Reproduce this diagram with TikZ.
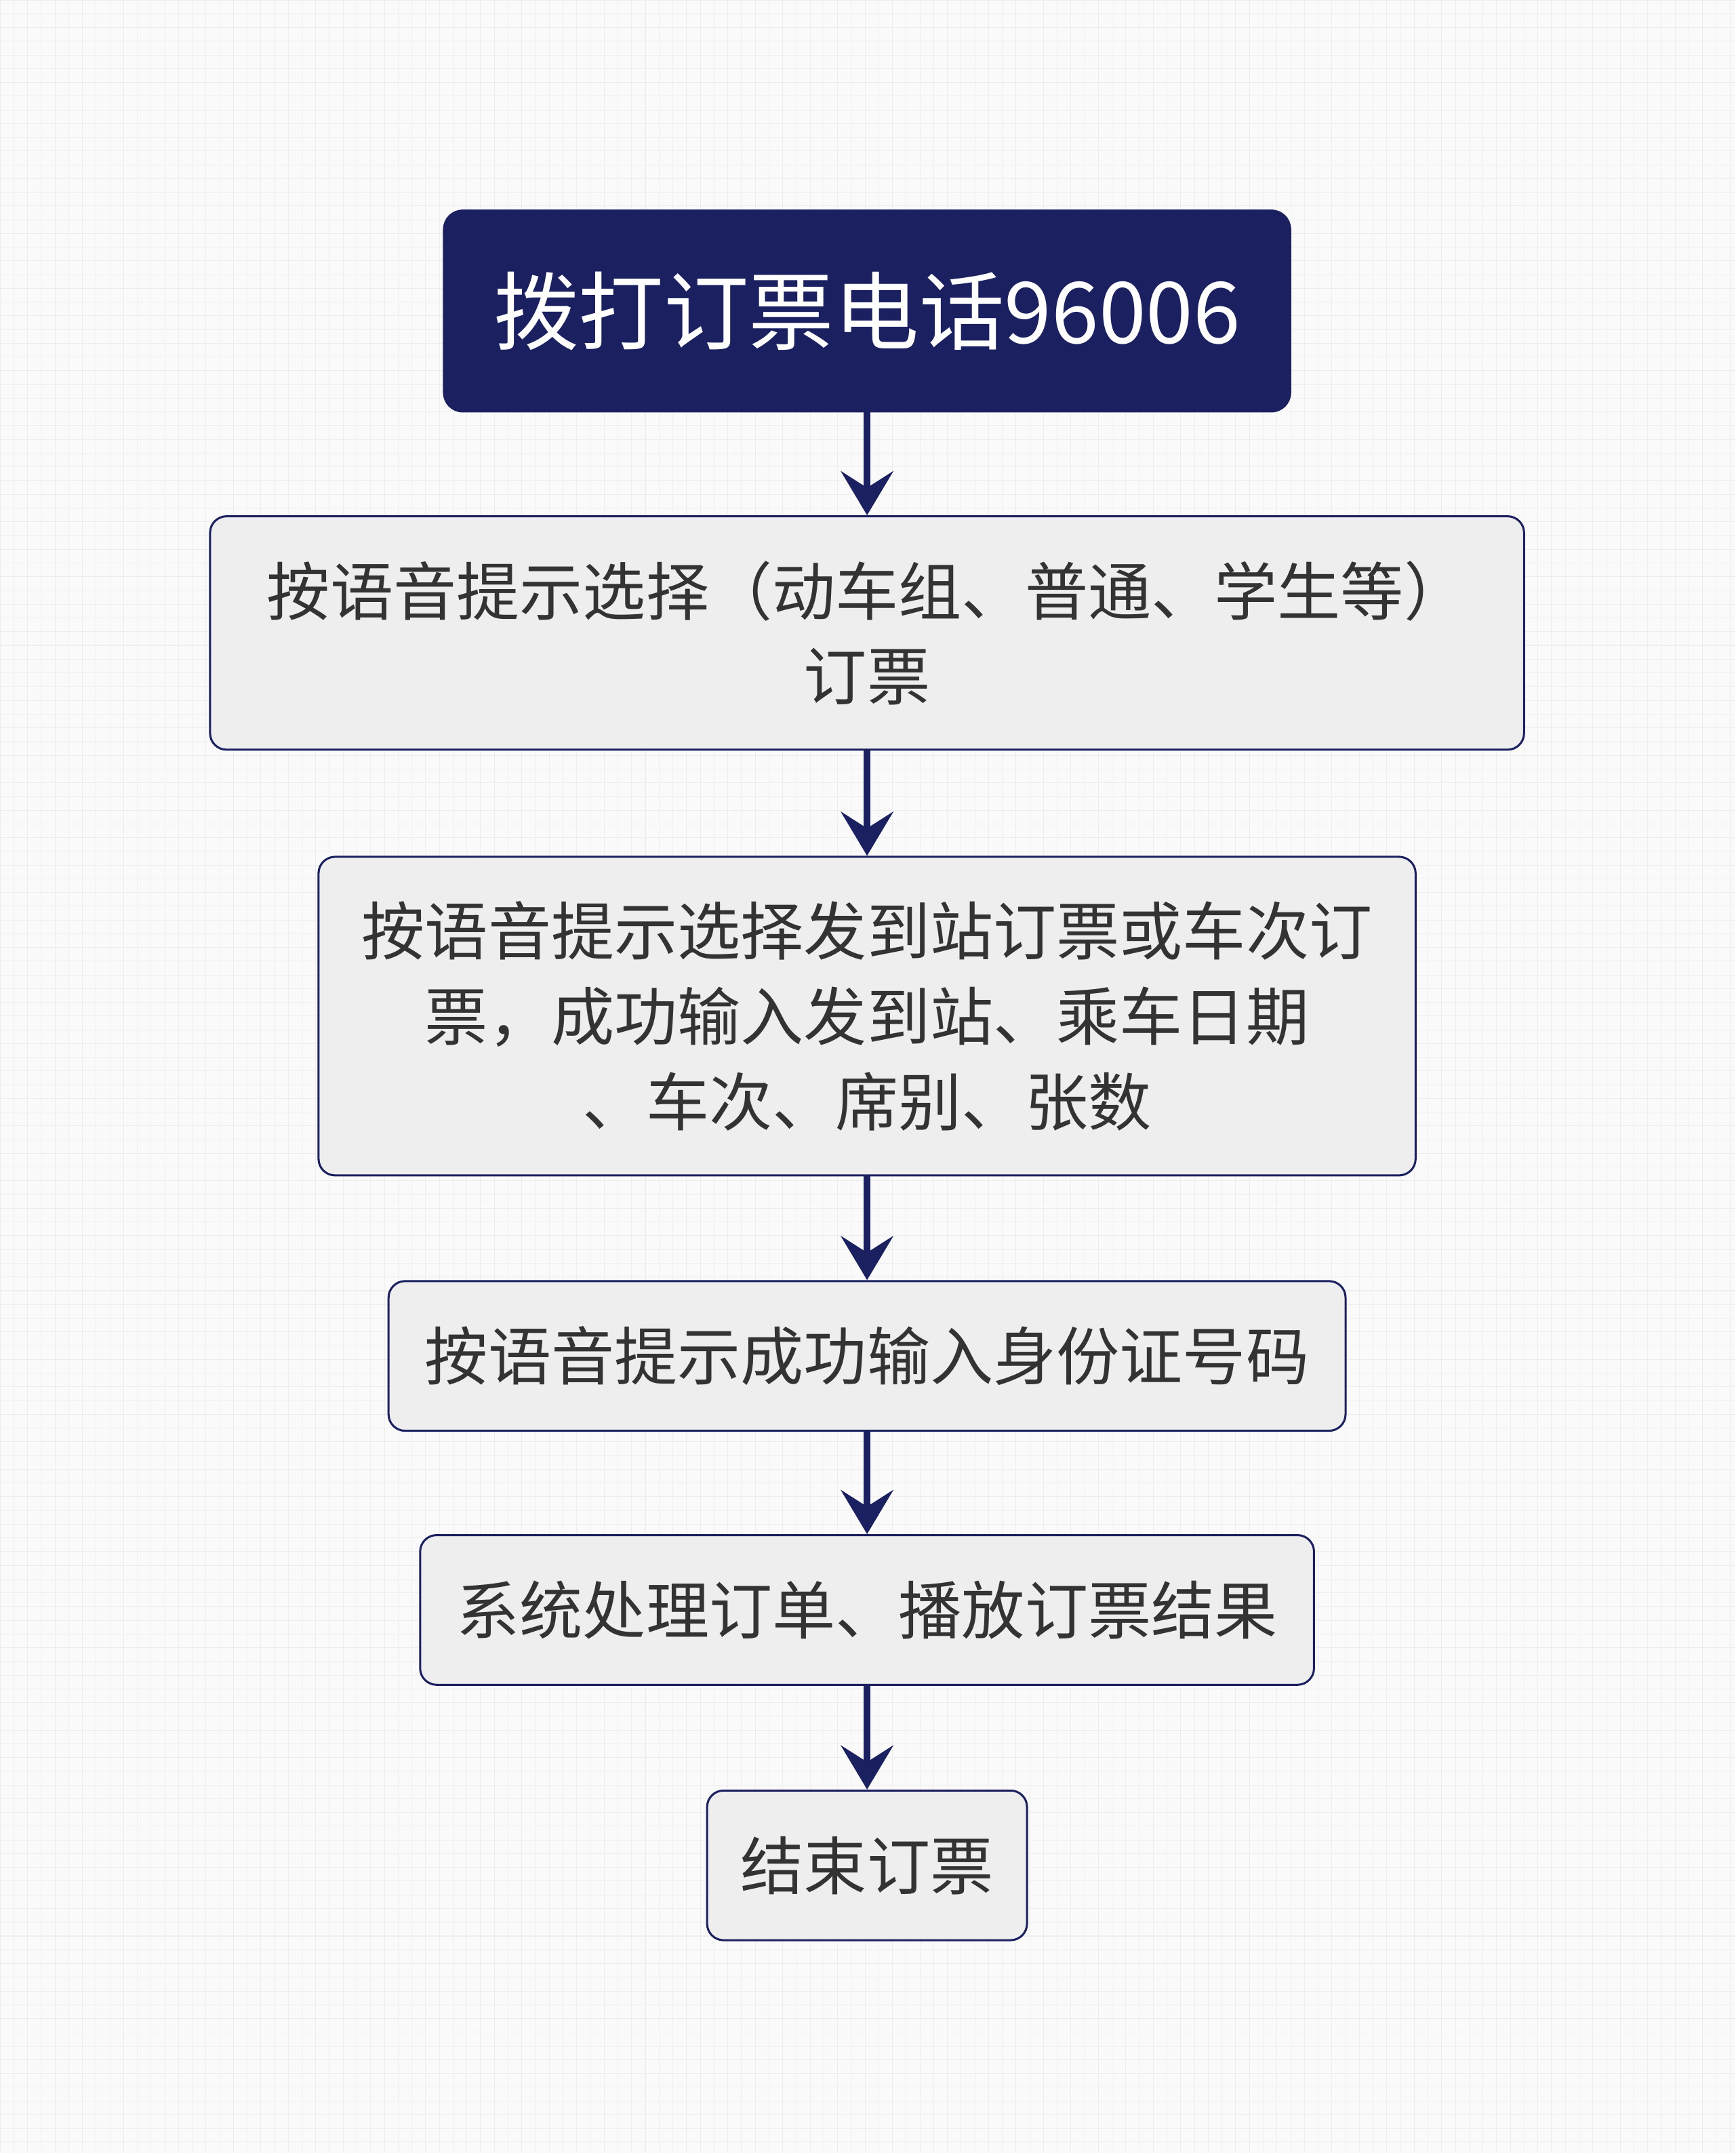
\documentclass[tikz,border=0pt]{standalone}
\usepackage{fontspec}
\setmainfont{Noto Sans CJK SC}
\usetikzlibrary{arrows.meta}

\definecolor{navy}{RGB}{26,32,96}
\definecolor{boxfill}{RGB}{238,238,238}
\definecolor{txtgray}{RGB}{51,51,51}
\definecolor{paper}{RGB}{250,250,250}
\definecolor{gridgray}{RGB}{238,238,238}

\tikzset{every picture/.style={line width=0.75pt}}
\tikzset{
  stepbox/.style={draw=navy, fill=boxfill, line width=1.5pt, rounded corners=12pt,
    text=txtgray, align=center, inner sep=0pt, font=\fontsize{46}{62}\selectfont},
  startbox/.style={draw=navy, fill=navy, rounded corners=14pt, text=white,
    inner sep=0pt, font=\fontsize{62}{70}\selectfont},
  flow/.style={draw=navy, line width=5pt, -{Stealth[length=32pt,width=38pt,inset=12pt]}}
}

\begin{document}
\begin{tikzpicture}[x=1pt,y=1pt,yscale=-1,xscale=1]
%set diagram to 1264 x 1568
\useasboundingbox (0,0) rectangle (1264,1568);
\fill[paper] (0,0) rectangle (1264,1568);
\draw[gridgray, line width=0.5pt, step=10] (0,0) grid (1264,1568);

%Shape: Rounded Rect [id:start]
\node[startbox, minimum width=617pt, minimum height=147pt] (call) at (631.5,226.5) {拨打订票电话96006};
%Shape: Rounded Rect [id:choose]
\node[stepbox, minimum width=957pt, minimum height=170pt] (choose) at (631.5,461) {按语音提示选择（动车组、普通、学生等）\\订票};
%Shape: Rounded Rect [id:station]
\node[stepbox, minimum width=799pt, minimum height=232pt] (station) at (631.5,740) {按语音提示选择发到站订票或车次订\\票，成功输入发到站、乘车日期\\、车次、席别、张数};
%Shape: Rounded Rect [id:idcard]
\node[stepbox, minimum width=697pt, minimum height=109pt] (idcard) at (631.5,987.5) {按语音提示成功输入身份证号码};
%Shape: Rounded Rect [id:process]
\node[stepbox, minimum width=651pt, minimum height=109pt] (process) at (631.5,1172.5) {系统处理订单、播放订票结果};
%Shape: Rounded Rect [id:finish]
\node[stepbox, minimum width=233pt, minimum height=109pt] (finish) at (631.5,1358.5) {结束订票};

%Straight Lines
\draw[flow] (call) -- (choose);
\draw[flow] (choose) -- (station);
\draw[flow] (station) -- (idcard);
\draw[flow] (idcard) -- (process);
\draw[flow] (process) -- (finish);

\end{tikzpicture}
\end{document}
